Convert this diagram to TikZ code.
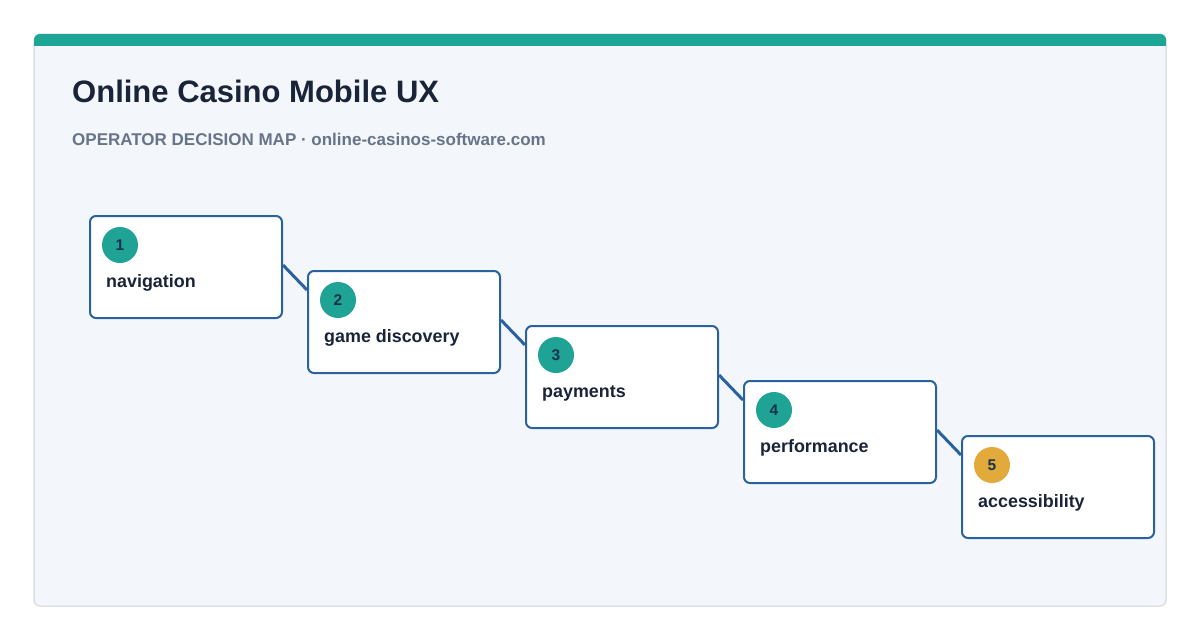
\documentclass[tikz,border=0pt]{standalone}
\usepackage{fontspec}
\setmainfont{Liberation Sans}
\usetikzlibrary{calc}
\definecolor{panelbg}{HTML}{F3F7FB}
\definecolor{panelborder}{HTML}{DCE0E5}
\definecolor{barteal}{HTML}{1DA596}
\definecolor{boxblue}{HTML}{2A62A0}
\definecolor{linkblue}{HTML}{2A62A0}
\definecolor{navy}{HTML}{1A2438}
\definecolor{subgray}{HTML}{667389}
\definecolor{badgeteal}{HTML}{1FA394}
\definecolor{badgegold}{HTML}{E2A93B}
\definecolor{numnavy}{HTML}{17324D}
\begin{document}
\begin{tikzpicture}[x=1pt,y=-1pt,
 stepbox/.style={draw=boxblue, line width=2pt, fill=white, rounded corners=6pt, minimum width=192pt, minimum height=102pt, inner sep=0pt, anchor=north west},
 badge/.style={circle, fill=badgeteal, minimum size=36pt, inner sep=0pt, font=\bfseries\fontsize{15.5}{16}\selectfont, text=numnavy},
 lbl/.style={anchor=base west, font=\bfseries\fontsize{17.9}{19}\selectfont, text=navy, inner sep=0pt},
 link/.style={draw=linkblue, line width=3pt}]
\useasboundingbox (0,0) rectangle (1200,640);
\fill[white] (0,0) rectangle (1200,640);
\path[fill=panelbg, draw=panelborder, line width=1.5pt, rounded corners=6pt] (34,34) rectangle (1166,606);
\begin{scope}
\clip[rounded corners=6pt] (34,34) rectangle (1166,606);
\fill[barteal] (33,33) rectangle (1167,46);
\end{scope}
\node[anchor=base west, inner sep=0pt, text=navy, font=\bfseries\fontsize{31}{33}\selectfont] (title) at (72,102) {Online Casino Mobile UX};
\node[anchor=base west, inner sep=0pt, text=subgray, font=\bfseries\fontsize{17}{19}\selectfont] (sub) at (72,145) {OPERATOR DECISION MAP · online-casinos-software.com};
\foreach \i/\t/\c in {1/navigation/badgeteal, 2/game discovery/badgeteal, 3/payments/badgeteal, 4/performance/badgeteal, 5/accessibility/badgegold}{
  \pgfmathsetmacro{\bx}{89+218*(\i-1)}
  \pgfmathsetmacro{\by}{215+55*(\i-1)}
  \node[stepbox] (b\i) at (\bx,\by) {};
  \node[badge, fill=\c] (n\i) at ($(b\i.north west)+(31,30)$) {\i};
  \node[lbl] (l\i) at ($(b\i.north west)+(17,72)$) {\t};
}
\foreach \a/\b in {1/2,2/3,3/4,4/5}{
  \draw[link] ($(b\a.north east)+(0,50)$) -- ($(b\b.north west)+(0,20)$);
}
\end{tikzpicture}
\end{document}
